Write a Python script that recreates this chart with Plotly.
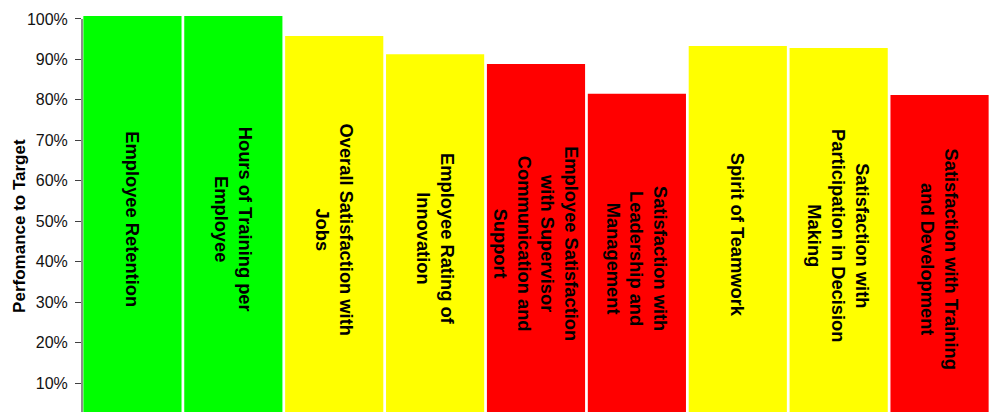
import plotly.graph_objects as go

categories = [
    "Employee Retention",
    "Hours of Training per<br>Employee",
    "Overall Satisfaction with<br>Jobs",
    "Employee Rating of<br>Innovation",
    "Employee Satisfaction<br>with Supervisor<br>Communication and<br>Support",
    "Satisfaction with<br>Leadership and<br>Management",
    "Spirit of Teamwork",
    "Satisfaction with<br>Participation in Decision<br>Making",
    "Satisfaction with Training<br>and Development",
]
values = [1.01, 1.01, 0.958, 0.913, 0.889, 0.815, 0.933, 0.928, 0.812]
colors = ["#00FF00", "#00FF00", "#FFFF00", "#FFFF00", "#FF0000",
          "#FF0000", "#FFFF00", "#FFFF00", "#FF0000"]
tick_vals = [0.1, 0.2, 0.3, 0.4, 0.5, 0.6, 0.7, 0.8, 0.9, 1.0]
tick_text = ["10%", "20%", "30%", "40%", "50%", "60%", "70%", "80%", "90%", "100%"]
y_title = "Perfomance to Target"

Y_MIN, Y_MAX = 0.0283, 1.0074
FONT = "Arial, Liberation Sans, sans-serif"

fig = go.Figure(go.Bar(
    x=list(range(len(categories))),
    y=values,
    marker=dict(color=colors, line=dict(width=0)),
    text=categories,
    textposition="inside",
    insidetextanchor="middle",
    textangle=90,
    constraintext="none",
    textfont=dict(family=FONT, size=18.3, color="black", weight="bold"),
    hoverinfo="skip",
))

fig.update_layout(
    width=990, height=412,
    margin=dict(l=82, r=0, t=16, b=0, pad=0),
    paper_bgcolor="white", plot_bgcolor="white",
    bargap=0.027,
    showlegend=False,
    xaxis=dict(visible=False, range=[-0.5, len(categories) - 0.5]),
    yaxis=dict(
        range=[Y_MIN, Y_MAX],
        tickvals=tick_vals, ticktext=tick_text,
        ticks="outside", ticklen=6, tickcolor="#404040", tickwidth=1,
        showgrid=False, zeroline=False, showline=False,
        tickfont=dict(family=FONT, size=16, color="#111111"),
        ticklabelstandoff=4,
    ),
    shapes=[dict(type="line", xref="paper", yref="y", x0=0, x1=0,
                 y0=Y_MIN, y1=1.0, line=dict(color="#404040", width=1.2))],
    annotations=[dict(
        text="<b>" + y_title + "</b>", textangle=-90,
        xref="paper", yref="paper", x=0, xanchor="center", xshift=-62,
        y=0.47, yanchor="middle", showarrow=False,
        font=dict(family=FONT, size=17, color="black"),
    )],
)

fig.write_html("out.html")
